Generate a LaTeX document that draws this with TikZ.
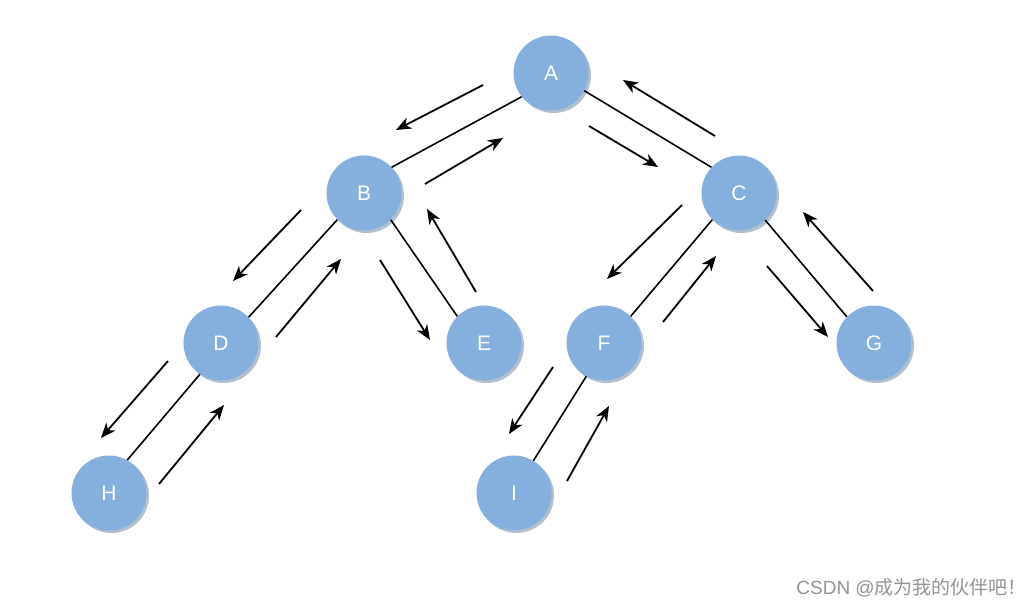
\documentclass[tikz,border=0pt]{standalone}
\usepackage{fontspec}
\setmainfont{Liberation Sans}
\newfontfamily\cjk{Noto Sans CJK SC}
\usetikzlibrary{arrows.meta,shadows}
\definecolor{nodeblue}{HTML}{85AFDD}
\tikzset{
  tnode/.style={circle, fill=nodeblue, minimum size=75pt, inner sep=0pt, text=white,
    font=\fontsize{21}{23}\selectfont,
    drop shadow={shadow xshift=2.5pt, shadow yshift=-2.5pt, fill=black!35!nodeblue, opacity=0.45}},
  edge/.style={line width=1.6pt, black},
  walk/.style={line width=1.7pt, black, -{Stealth[length=15pt,width=12pt,inset=4.5pt]}},
  walkshadow/.style={line width=2.4pt, black!30!nodeblue, opacity=0.25, -{Stealth[length=15pt,width=12pt,inset=4.5pt]}, shift={(2.5,2.5)}}
}
\begin{document}
\begin{tikzpicture}[x=1pt,y=-1pt]
\useasboundingbox[fill=white] (0,0) rectangle (1036,607);
\node[tnode] (A) at (551,73) {A};
\node[tnode] (B) at (364,193) {B};
\node[tnode] (C) at (739,193) {C};
\node[tnode] (D) at (221,343) {D};
\node[tnode] (E) at (484,343) {E};
\node[tnode] (F) at (604,343) {F};
\node[tnode] (G) at (874,343) {G};
\node[tnode] (H) at (109,493) {H};
\node[tnode] (I) at (514,493) {I};
\draw[edge] (A.219.6) -- (B.43.9);
\draw[edge] (A.332) -- (C.137.2);
\draw[edge] (B.225.7) -- (D.43.9);
\draw[edge] (B.315) -- (E.135.7);
\draw[edge] (C.225.7) -- (F.45);
\draw[edge] (C.314.7) -- (G.136);
\draw[edge] (D.236.8) -- (H.61.4);
\draw[edge] (F.242.8) -- (I.59);
% arrow end points
\coordinate (ab1) at (483,85);  \coordinate (ab2) at (396,130);
\coordinate (ba1) at (425,184); \coordinate (ba2) at (503,138);
\coordinate (ac1) at (589,126); \coordinate (ac2) at (658,167);
\coordinate (ca1) at (715,136); \coordinate (ca2) at (623,80);
\coordinate (bd1) at (301,210); \coordinate (bd2) at (233,281);
\coordinate (db1) at (276,337); \coordinate (db2) at (341,259);
\coordinate (be1) at (380,260); \coordinate (be2) at (430,340);
\coordinate (eb1) at (476,292); \coordinate (eb2) at (427,209);
\coordinate (cf1) at (682,205); \coordinate (cf2) at (607,279);
\coordinate (fc1) at (663,322); \coordinate (fc2) at (716,256);
\coordinate (cg1) at (767,266); \coordinate (cg2) at (828,337);
\coordinate (gc1) at (873,291); \coordinate (gc2) at (803,212);
\coordinate (dh1) at (168,361); \coordinate (dh2) at (101,438);
\coordinate (hd1) at (159,484); \coordinate (hd2) at (224,405);
\coordinate (fi1) at (553,367); \coordinate (fi2) at (509,434);
\coordinate (if1) at (567,481); \coordinate (if2) at (609,406);
\foreach \p in {ab,ba,ac,ca,bd,db,be,eb,cf,fc,cg,gc,dh,hd,fi,if}
  \draw[walkshadow] (\p1) -- (\p2);
\foreach \p in {ab,ba,ac,ca,bd,db,be,eb,cf,fc,cg,gc,dh,hd,fi,if}
  \draw[walk] (\p1) -- (\p2);
\node[anchor=east, text=black!42, font=\fontsize{19}{21}\selectfont, inner sep=0pt] (wm) at (1027,588) {CSDN @{\cjk 成为我的伙伴吧！}};
\end{tikzpicture}
\end{document}
